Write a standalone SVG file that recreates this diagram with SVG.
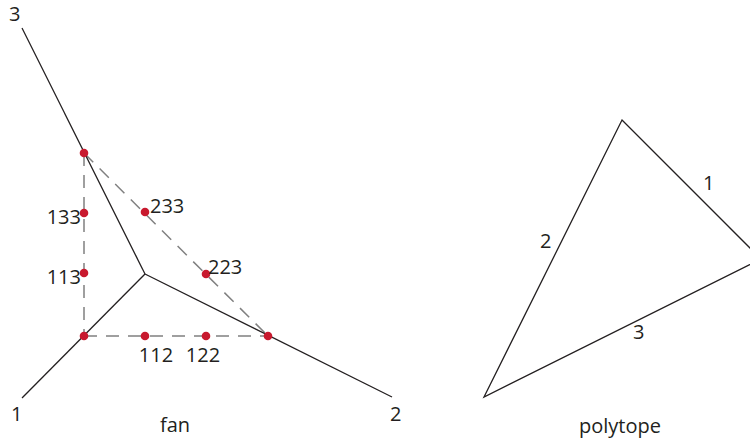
<svg xmlns="http://www.w3.org/2000/svg" width="750" height="442" viewBox="0 0 750 442">
<style>
text{font-family:"Open Sans","Noto Sans","Liberation Sans",sans-serif;font-size:20px;fill:#231f20}
.ray{stroke:#231f20;stroke-width:1.3;fill:none}
.dash{stroke:#808080;stroke-width:1.5;stroke-dasharray:13 9;fill:none}
.dot{fill:#c8192e}
</style>
<rect width="750" height="442" fill="#fff"/>
<g id="connectors">
<line class="dash" x1="84" y1="153" x2="84" y2="336"/>
<line class="dash" x1="84" y1="336" x2="268" y2="336"/>
<line class="dash" x1="84" y1="153" x2="268" y2="336"/>
<line class="ray" x1="145" y1="274" x2="22" y2="28"/>
<line class="ray" x1="145" y1="274" x2="22" y2="398"/>
<line class="ray" x1="145" y1="274" x2="392" y2="397"/>
</g>
<g id="ray-labels">
<text x="9" y="21">3</text>
<text x="11" y="421">1</text>
<text x="390" y="421">2</text>
<text x="175" y="432" text-anchor="middle">fan</text>
</g>
<g id="p153"><circle class="dot" cx="84" cy="153" r="4.3"/></g>
<g id="p133"><circle class="dot" cx="84" cy="213" r="4.3"/><text x="81" y="224" text-anchor="end">133</text></g>
<g id="p113"><circle class="dot" cx="84" cy="273" r="4.3"/><text x="81" y="284" text-anchor="end">113</text></g>
<g id="p111"><circle class="dot" cx="84" cy="336" r="4.3"/></g>
<g id="p112"><circle class="dot" cx="145" cy="336" r="4.3"/><text x="156" y="362" text-anchor="middle">112</text></g>
<g id="p122"><circle class="dot" cx="206" cy="336" r="4.3"/><text x="203" y="362" text-anchor="middle">122</text></g>
<g id="p222"><circle class="dot" cx="268" cy="336" r="4.3"/></g>
<g id="p233"><circle class="dot" cx="145" cy="212" r="4.3"/><text x="150" y="213">233</text></g>
<g id="p223"><circle class="dot" cx="206" cy="274" r="4.3"/><text x="208" y="274">223</text></g>
<g id="polytope">
<polygon class="ray" points="622,120 761,259 484,397"/>
<text x="703" y="190">1</text>
<text x="540" y="248">2</text>
<text x="633" y="339">3</text>
<text x="620" y="433" text-anchor="middle">polytope</text>
</g>
</svg>
